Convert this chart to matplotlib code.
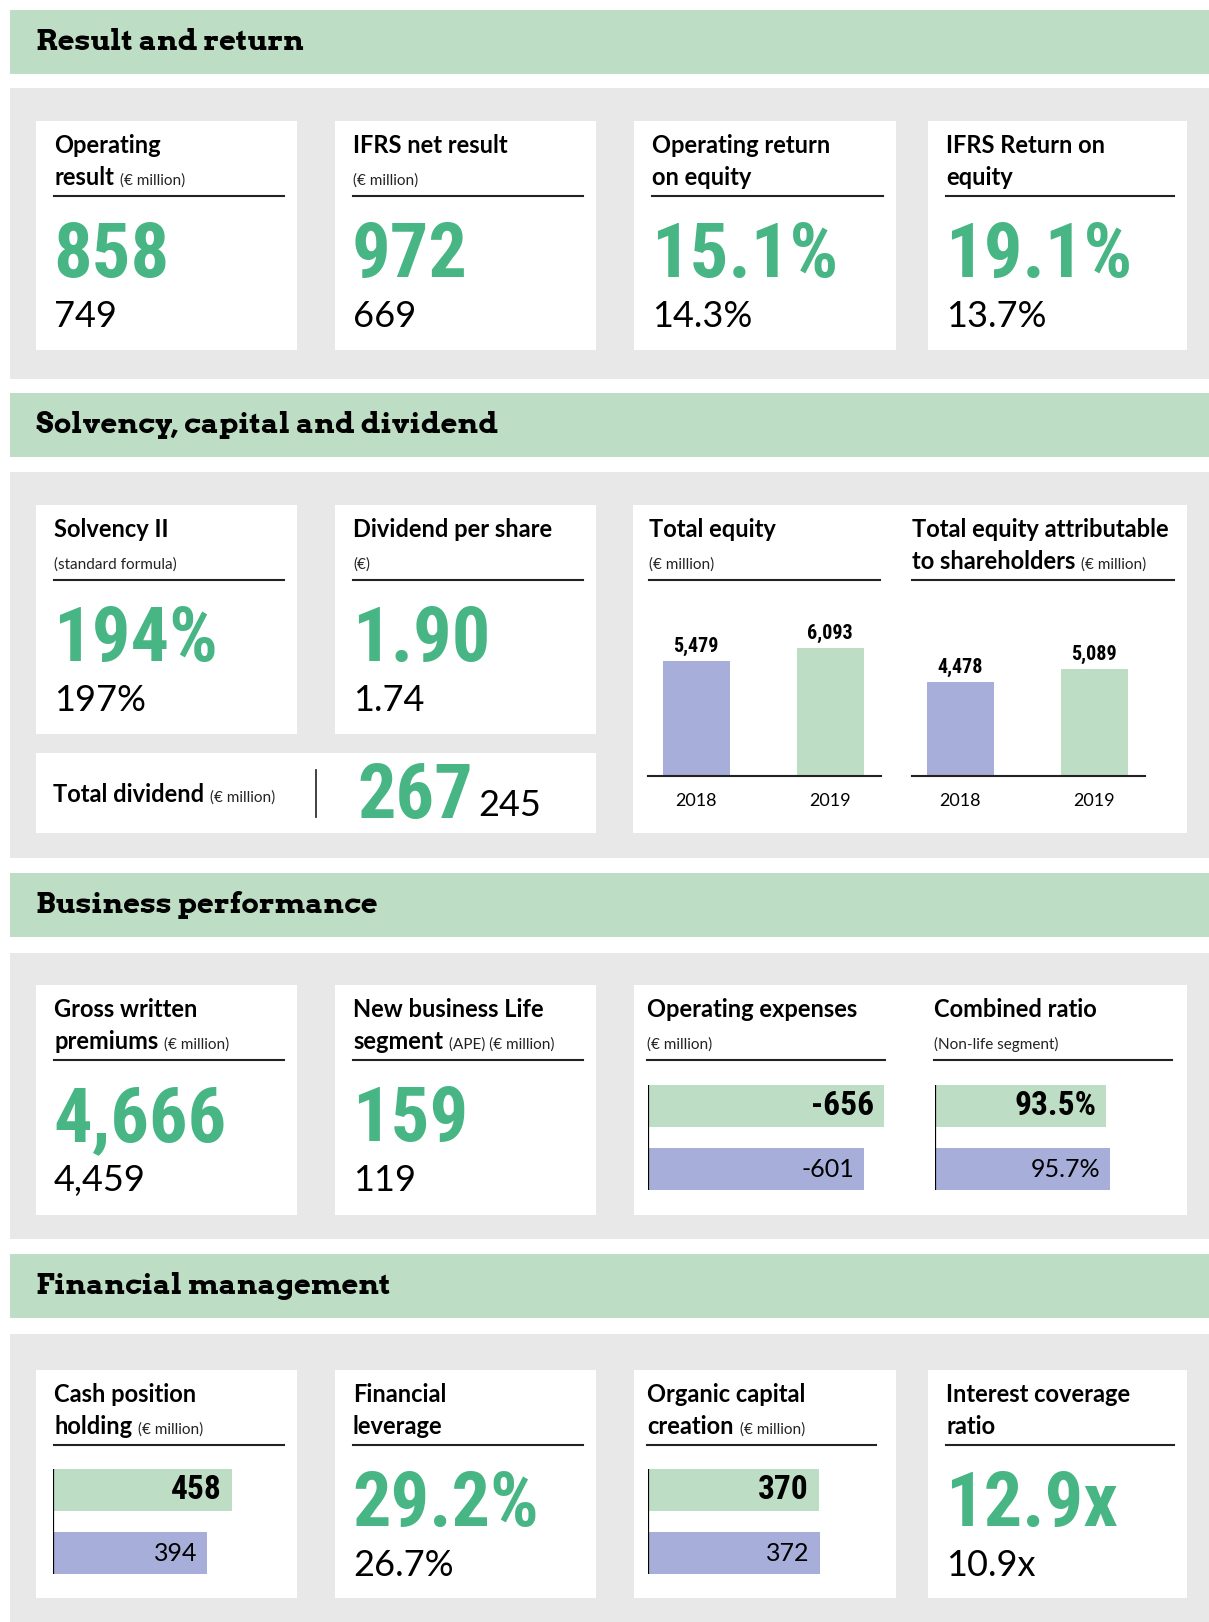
import matplotlib
matplotlib.use('Agg')
import matplotlib.pyplot as plt
from matplotlib.patches import Rectangle
from matplotlib.transforms import offset_copy

# colours
GREEN_LIGHT = '#BEDDC5'
BLUE = '#A6AED9'
GREEN_TXT = '#48B584'
PANEL = '#E8E8E8'

TITLE_FONT = ['Lato', 'DejaVu Sans']
NUM_FONT = ['Roboto Condensed', 'DejaVu Sans']
SERIF_FONT = ['Arvo', 'Roboto Slab', 'DejaVu Serif']

# data
section_titles = ['Result and return', 'Solvency, capital and dividend',
                  'Business performance', 'Financial management']

# section 1: (line1, line2 bold, line2 small)
s1_titles = [('Operating', 'result', '(€ million)'),
             ('IFRS net result', '', '(€ million)'),
             ('Operating return', 'on equity', ''),
             ('IFRS Return on', 'equity', '')]
s1_now = ['858', '972', '15.1%', '19.1%']
s1_prev = ['749', '669', '14.3%', '13.7%']

s2_titles = [('Solvency II', '', '(standard formula)'),
             ('Dividend per share', '', '(€)')]
s2_now = ['194%', '1.90']
s2_prev = ['197%', '1.74']
total_dividend = ['267', '245']

years = ['2018', '2019']
total_equity = [5479, 6093]
equity_shareholders = [4478, 5089]

s3_titles = [('Gross written', 'premiums', '(€ million)'),
             ('New business Life', 'segment', '(APE) (€ million)')]
s3_now = ['4,666', '159']
s3_prev = ['4,459', '119']
opex = [656, 601]              # shown as negatives
opex_labels = ['-656', '-601']
combined_ratio = [93.5, 95.7]
combined_labels = ['93.5%', '95.7%']

cash_holding = [458, 394]
organic_capital = [370, 372]
s4_titles = [('Financial', 'leverage', ''), ('Interest coverage', 'ratio', '')]
s4_now = ['29.2%', '12.9x']
s4_prev = ['26.7%', '10.9x']

W, H = 1209, 1622
fig = plt.figure(figsize=(W / 100, H / 100), dpi=100)
bg = fig.add_axes([0, 0, 1, 1])
bg.set_xlim(0, W)
bg.set_ylim(H, 0)
bg.axis('off')
renderer = fig.canvas.get_renderer()


def rect(x0, y0, x1, y1, color):
    bg.add_patch(Rectangle((x0, y0), x1 - x0, y1 - y0, color=color, lw=0))


def px_axes(x0, y0, x1, y1):
    return fig.add_axes([x0 / W, 1 - y1 / H, (x1 - x0) / W, (y1 - y0) / H])


def title_block(x, xr, top, line1, bold2, small2):
    bg.text(x, top + 32, line1, fontsize=17, fontweight='bold', family=TITLE_FONT,
            va='baseline', ha='left')
    xs = x
    if bold2:
        t = bg.text(x, top + 64, bold2, fontsize=17, fontweight='bold', family=TITLE_FONT,
                    va='baseline', ha='left')
        xs = t.get_window_extent(renderer).x1 + 6
    if small2:
        bg.text(xs, top + 64, small2, fontsize=11, family=TITLE_FONT,
                va='baseline', ha='left', color='#222222')
    bg.plot([x, xr], [top + 75, top + 75], color='#222222', lw=1.5)


def big_numbers(x, top, now, prev):
    bg.text(x - 1, top + 156, now, fontsize=55, fontweight='bold', family=NUM_FONT,
            color=GREEN_TXT, va='baseline', ha='left')
    bg.text(x, top + 206, prev, fontsize=26, fontweight='normal', family=TITLE_FONT,
            va='baseline', ha='left')


def simple_card(x0, x1, top, bottom, title, now, prev):
    rect(x0, top, x1, bottom, 'white')
    title_block(x0 + 18, x1 - 13, top, *title)
    big_numbers(x0 + 18, top, now, prev)


def hbars(x0, top, vals, labels, green_px):
    scale = green_px / vals[0]
    width = max(vals) * scale + 4
    ax = px_axes(x0, top, x0 + width, top + 105)
    ax.barh([0, 1], vals, height=0.667, color=[GREEN_LIGHT, BLUE], align='center')
    ax.set_xlim(0, width / scale)
    ax.set_ylim(1.333, -0.333)
    ax.axis('off')
    ax.axvline(0, color='black', lw=1.6)
    tr = offset_copy(ax.transData, fig=fig, x=-10, y=0, units='dots')
    ax.text(vals[0], 0, labels[0], transform=tr, ha='right', va='center',
            fontsize=24, fontweight='bold', family=NUM_FONT)
    ax.text(vals[1], 1, labels[1], transform=tr, ha='right', va='center',
            fontsize=18, fontweight='normal', family=TITLE_FONT)


def vbars(x0, x1, vals):
    base, top = 776, 596
    ax = px_axes(x0, top, x1, base)
    ax.bar([0, 1], vals, width=0.5, color=[BLUE, GREEN_LIGHT])
    ax.set_xlim(-0.36, 1.38)
    ax.set_ylim(0, 6093 * (base - top) / 128)
    for s in ['top', 'left', 'right']:
        ax.spines[s].set_visible(False)
    ax.spines['bottom'].set_linewidth(1.5)
    ax.spines['bottom'].set_color('#222222')
    ax.set_yticks([])
    ax.set_xticks([0, 1], years)
    ax.tick_params(axis='x', length=0, pad=12, labelsize=13)
    for lab in ax.get_xticklabels():
        lab.set_family(TITLE_FONT)
    ax.patch.set_alpha(0)
    tr = offset_copy(ax.transData, fig=fig, x=0, y=5, units='dots')
    for i, v in enumerate(vals):
        ax.text(i, v, f'{v:,}', transform=tr, ha='center', va='bottom',
                fontsize=14.5, fontweight='bold', family=NUM_FONT)


# headers and grey panels
header_y = [10, 393, 873, 1254]
panel_y = [(88, 379), (472, 858), (953, 1239), (1334, 1622)]
for t, hy, (p0, p1) in zip(section_titles, header_y, panel_y):
    rect(10, hy, W, hy + 64, GREEN_LIGHT)
    bg.text(36, hy + 40, t, fontsize=21, fontweight='bold', family=SERIF_FONT,
            va='baseline', ha='left')
    rect(10, p0, W, p1, PANEL)

cols4 = [(36, 297), (335, 596), (634, 896), (928, 1187)]

# section 1
for (x0, x1), title, n, p in zip(cols4, s1_titles, s1_now, s1_prev):
    simple_card(x0, x1, 121, 350, title, n, p)

# section 2
for (x0, x1), title, n, p in zip(cols4[:2], s2_titles, s2_now, s2_prev):
    simple_card(x0, x1, 505, 734, title, n, p)

rect(36, 753, 596, 833, 'white')
t = bg.text(53, 802, 'Total dividend', fontsize=17, fontweight='bold', family=TITLE_FONT,
            va='baseline', ha='left')
bg.text(t.get_window_extent(renderer).x1 + 6, 802, '(€ million)', fontsize=11,
        family=TITLE_FONT, va='baseline', ha='left', color='#222222')
bg.plot([316, 316], [770, 817], color='#333333', lw=1.3)
t = bg.text(357, 818, total_dividend[0], fontsize=55, fontweight='bold', family=NUM_FONT,
            color=GREEN_TXT, va='baseline', ha='left')
bg.text(t.get_window_extent(renderer).x1 + 6, 816, total_dividend[1], fontsize=26,
        fontweight='normal', family=TITLE_FONT, va='baseline', ha='left')

rect(633, 505, 1187, 833, 'white')
title_block(649, 880, 505, 'Total equity', '', '(€ million)')
title_block(912, 1174, 505, 'Total equity attributable', 'to shareholders', '(€ million)')
vbars(648, 881, total_equity)
vbars(912, 1145, equity_shareholders)

# section 3
for (x0, x1), title, n, p in zip(cols4[:2], s3_titles, s3_now, s3_prev):
    simple_card(x0, x1, 985, 1215, title, n, p)
rect(634, 985, 1187, 1215, 'white')
title_block(647, 885, 985, 'Operating expenses', '', '(€ million)')
title_block(934, 1172, 985, 'Combined ratio', '', '(Non-life segment)')
hbars(648, 1085, opex, opex_labels, 236)
hbars(935, 1085, combined_ratio, combined_labels, 171)

# section 4
top4, bot4 = 1370, 1598
rect(36, top4, 297, bot4, 'white')
title_block(54, 284, top4, 'Cash position', 'holding', '(€ million)')
hbars(53, 1469, cash_holding, [f'{v}' for v in cash_holding], 179)

simple_card(335, 596, top4, bot4, s4_titles[0], s4_now[0], s4_prev[0])

rect(634, top4, 896, bot4, 'white')
title_block(647, 876, top4, 'Organic capital', 'creation', '(€ million)')
hbars(648, 1469, organic_capital, [f'{v}' for v in organic_capital], 171)

simple_card(928, 1187, top4, bot4, s4_titles[1], s4_now[1], s4_prev[1])

fig.savefig('out.png', dpi=100)
